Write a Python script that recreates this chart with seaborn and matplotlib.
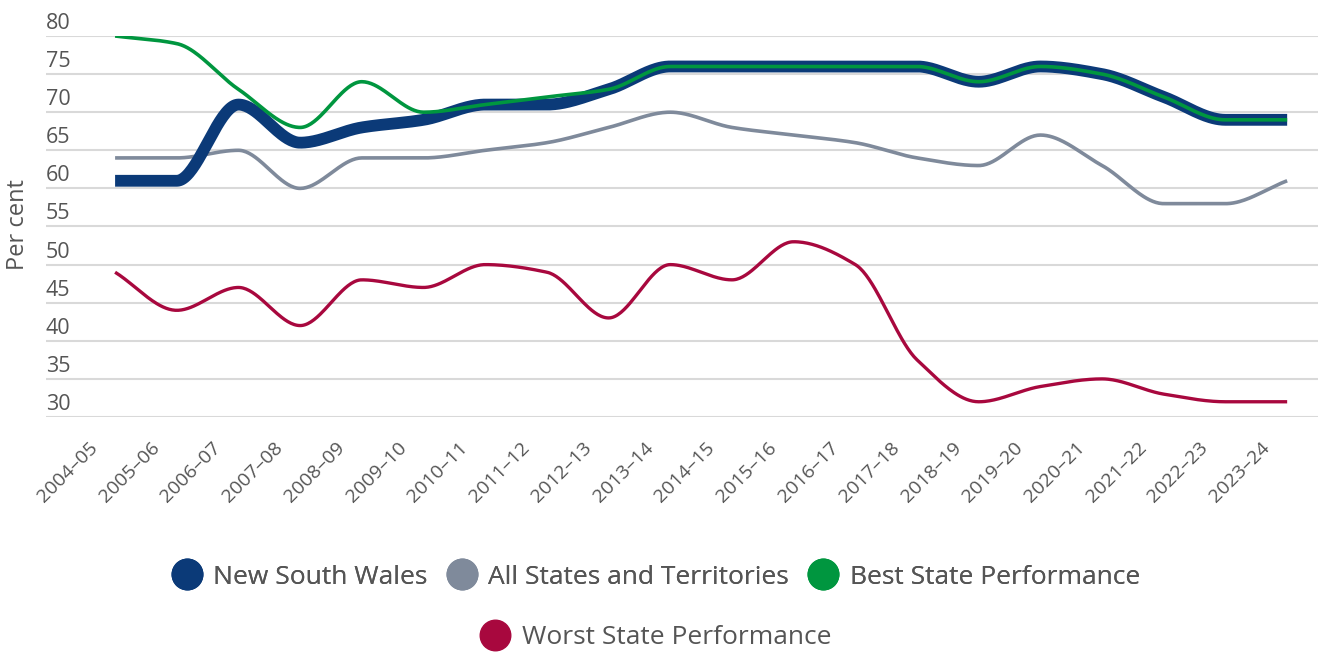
import numpy as np
import pandas as pd
import matplotlib
matplotlib.use("Agg")
import matplotlib.pyplot as plt
from matplotlib.transforms import ScaledTranslation
from matplotlib.lines import Line2D
import seaborn as sns

years = ["2004–05", "2005–06", "2006–07", "2007–08", "2008–09", "2009–10",
         "2010–11", "2011–12", "2012–13", "2013–14", "2014–15", "2015–16",
         "2016–17", "2017–18", "2018–19", "2019–20", "2020–21", "2021–22",
         "2022–23", "2023–24"]
nsw = [61, 61, 71, 66, 68, 69, 71, 71, 73, 76, 76, 76, 76, 76, 74, 76, 75, 72, 69, 69]
all_states = [64, 64, 65, 60, 64, 64, 65, 66, 68, 70, 68, 67, 66, 64, 63, 67, 63, 58, 58, 61]
best = [80, 79, 73, 68, 74, 70, 71, 72, 73, 76, 76, 76, 76, 76, 74, 76, 75, 72, 69, 69]
worst = [49, 44, 47, 42, 48, 47, 50, 49, 43, 50, 48, 53, 50, 37.5, 32, 34, 35, 33, 32, 32]

series_names = ["New South Wales", "All States and Territories",
                "Best State Performance", "Worst State Performance"]
colors = ["#0b3a78", "#7f8a9b", "#00963f", "#a8083e"]
yticks = [30, 35, 40, 45, 50, 55, 60, 65, 70, 75, 80]


def monotone_curve(y, n=40):
    """Monotone cubic (Fritsch–Carlson) rendering of a series for a smooth line."""
    y = np.asarray(y, dtype=float)
    x = np.arange(len(y), dtype=float)
    d = np.diff(y)
    m = np.zeros_like(y)
    m[0], m[-1] = d[0], d[-1]
    for i in range(1, len(y) - 1):
        if d[i - 1] * d[i] <= 0:
            m[i] = 0.0
        else:
            m[i] = 2.0 / (1.0 / d[i - 1] + 1.0 / d[i])
    xs, ys = [], []
    for i in range(len(y) - 1):
        t = np.linspace(0, 1, n, endpoint=(i == len(y) - 2))
        h00 = 2 * t**3 - 3 * t**2 + 1
        h10 = t**3 - 2 * t**2 + t
        h01 = -2 * t**3 + 3 * t**2
        h11 = t**3 - t**2
        xs.append(x[i] + t)
        ys.append(h00 * y[i] + h10 * m[i] + h01 * y[i + 1] + h11 * m[i + 1])
    return np.concatenate(xs), np.concatenate(ys)


frames = []
for name, vals in zip(series_names, [nsw, all_states, best, worst]):
    xs, ys = monotone_curve(vals)
    frames.append(pd.DataFrame({"pos": xs, "value": ys, "series": name}))
df = pd.concat(frames, ignore_index=True)

sns.set_theme(style="white")
plt.rcParams["font.family"] = ["Open Sans", "DejaVu Sans"]
text_color = "#555555"

fig = plt.figure(figsize=(13.25, 6.53), dpi=100)
ax = fig.add_axes([46 / 1325, 1 - 417 / 653, (1318 - 46) / 1325, (417 - 36) / 653])

widths = {"New South Wales": 8.5, "All States and Territories": 2.6,
          "Best State Performance": 2.6, "Worst State Performance": 2.4}
orders = {"New South Wales": 3, "All States and Territories": 2,
          "Best State Performance": 4, "Worst State Performance": 2}
for name, col in zip(series_names, colors):
    sub = df[df["series"] == name]
    sns.lineplot(data=sub, x="pos", y="value", color=col, linewidth=widths[name],
                 ax=ax, zorder=orders[name], solid_capstyle="butt", legend=False)

ax.set_xlim(-1.12, 19.5)
ax.set_ylim(30, 80)
ax.set_yticks(yticks)
ax.set_yticklabels([str(v) for v in yticks])
ax.set_xticks(range(len(years)))
ax.set_xticklabels(years)
for s in ax.spines.values():
    s.set_visible(False)
ax.grid(axis="y", color="#d9d9d9", linewidth=1.5, zorder=0)
ax.grid(axis="x", visible=False)
ax.tick_params(axis="both", length=0, pad=0, colors=text_color)

for lab in ax.get_yticklabels():
    lab.set_horizontalalignment("left")
    lab.set_fontsize(15.5)
    lab.set_color(text_color)
    lab.set_transform(lab.get_transform() + ScaledTranslation(0.0, 0.15, fig.dpi_scale_trans))

for lab in ax.get_xticklabels():
    lab.set_rotation(45)
    lab.set_rotation_mode("anchor")
    lab.set_horizontalalignment("right")
    lab.set_verticalalignment("center")
    lab.set_fontsize(14)
    lab.set_color(text_color)
    lab.set_transform(lab.get_transform() + ScaledTranslation(-0.2, -0.28, fig.dpi_scale_trans))

ax.set_xlabel("")
ax.set_ylabel("")
fig.text(18 / 1325, 1 - 225 / 653, "Per cent", rotation=90, ha="center", va="center",
         fontsize=17, color=text_color)

handles = [Line2D([0], [0], marker="o", linestyle="none", markersize=22,
                  markerfacecolor=c, markeredgecolor=c) for c in colors]
leg1 = fig.legend(handles[:3], series_names[:3], loc="center", ncol=3,
                  bbox_to_anchor=(656 / 1325, 1 - 577 / 653), frameon=False,
                  fontsize=19, handlelength=1.1, handletextpad=0.45, columnspacing=0.75,
                  labelcolor=text_color)
leg2 = fig.legend(handles[3:], series_names[3:], loc="center", ncol=1,
                  bbox_to_anchor=(656 / 1325, 1 - 638 / 653), frameon=False,
                  fontsize=19, handlelength=1.1, handletextpad=0.45,
                  labelcolor=text_color)
fig.add_artist(leg1)

fig.savefig("out.png", dpi=100)
